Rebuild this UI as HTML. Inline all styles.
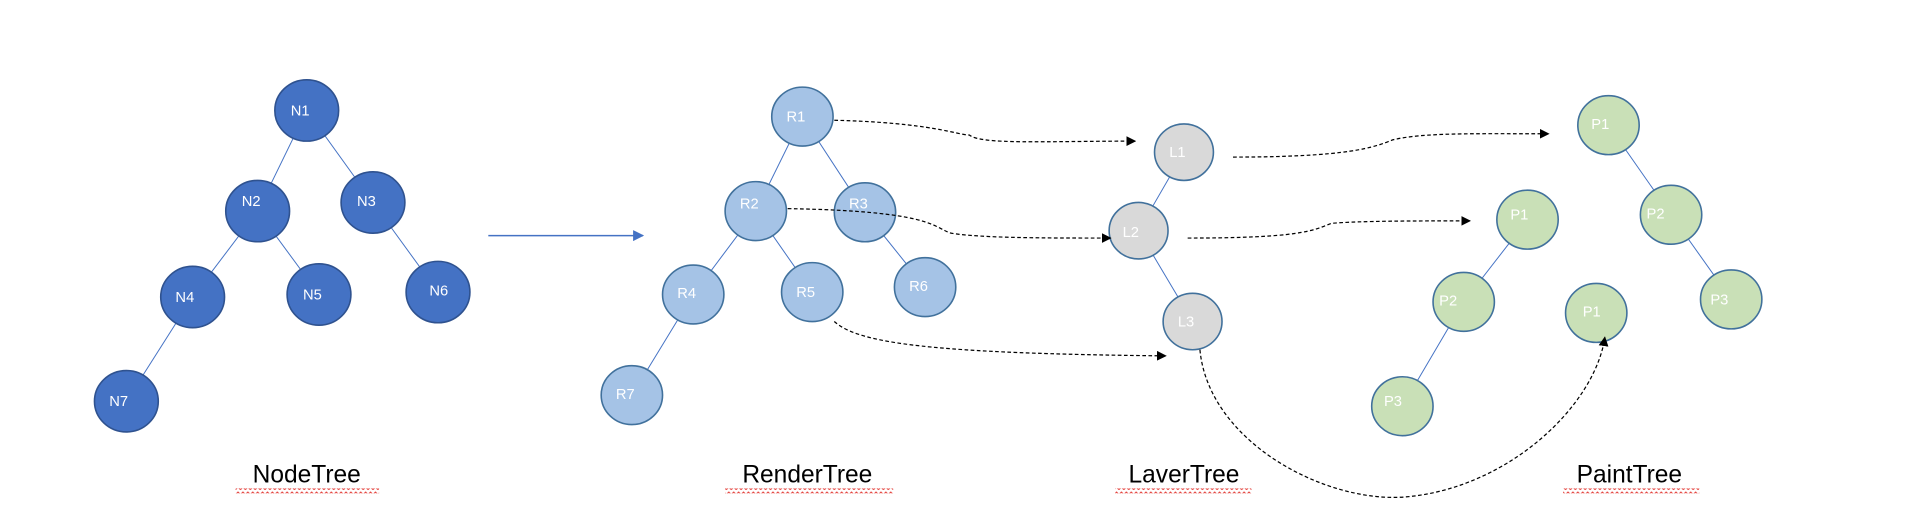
<!DOCTYPE html>
<html><head><meta charset="utf-8"><style>
html,body{margin:0;padding:0;background:#fff;}
svg{display:block;}
text{font-family:"Liberation Sans",sans-serif;}
</style></head><body>
<svg width="1914" height="524" viewBox="0 0 1560 427" preserveAspectRatio="none" xmlns="http://www.w3.org/2000/svg">
<defs>
<marker id="ah" markerWidth="8" markerHeight="8" refX="7" refY="4" orient="auto" markerUnits="userSpaceOnUse"><path d="M0,0 L8,4 L0,8 z" fill="#000"/></marker>
<marker id="bh" markerWidth="9" markerHeight="9" refX="8" refY="4.5" orient="auto" markerUnits="userSpaceOnUse"><path d="M0,0 L9,4.5 L0,9 z" fill="#4472C4"/></marker>
<pattern id="sq" width="4" height="4" patternUnits="userSpaceOnUse"><path d="M0,3 L2,1 L4,3" stroke="#e0302a" stroke-width="0.8" fill="none"/></pattern>
</defs>
<g stroke="#4472C4" stroke-width="0.8">
<line x1="250" y1="90" x2="210" y2="172"/><line x1="250" y1="90" x2="304" y2="165"/>
<line x1="210" y1="172" x2="157" y2="242"/><line x1="210" y1="172" x2="260" y2="240"/>
<line x1="304" y1="165" x2="357" y2="238"/><line x1="157" y1="242" x2="103" y2="327"/>
<line x1="654" y1="95" x2="616" y2="172"/><line x1="654" y1="95" x2="705" y2="173"/>
<line x1="616" y1="172" x2="565" y2="240"/><line x1="616" y1="172" x2="662" y2="238"/>
<line x1="705" y1="173" x2="754" y2="234"/><line x1="565" y1="240" x2="515" y2="322"/>
<line x1="965" y1="124" x2="928" y2="188"/><line x1="928" y1="188" x2="972" y2="262"/>
<line x1="1311" y1="102" x2="1362" y2="175"/><line x1="1362" y1="175" x2="1411" y2="244"/>
<line x1="1245" y1="179" x2="1193" y2="246"/><line x1="1193" y1="246" x2="1143" y2="331"/>
</g>
<line x1="398" y1="192" x2="524" y2="192" stroke="#4472C4" stroke-width="1.2" marker-end="url(#bh)"/>
<g stroke-width="1.3">
<g fill="#4472C4" stroke="#2F528F">
<ellipse cx="250" cy="90" rx="26" ry="25"/><ellipse cx="210" cy="172" rx="26" ry="25"/><ellipse cx="304" cy="165" rx="26" ry="25"/>
<ellipse cx="157" cy="242" rx="26" ry="25"/><ellipse cx="260" cy="240" rx="26" ry="25"/><ellipse cx="357" cy="238" rx="26" ry="25"/><ellipse cx="103" cy="327" rx="26" ry="25"/>
</g>
<g fill="#A5C3E6" stroke="#41719C">
<ellipse cx="654" cy="95" rx="25" ry="24"/><ellipse cx="616" cy="172" rx="25" ry="24"/><ellipse cx="705" cy="173" rx="25" ry="24"/>
<ellipse cx="565" cy="240" rx="25" ry="24"/><ellipse cx="662" cy="238" rx="25" ry="24"/><ellipse cx="754" cy="234" rx="25" ry="24"/><ellipse cx="515" cy="322" rx="25" ry="24"/>
</g>
<g fill="#D9D9D9" stroke="#41719C">
<ellipse cx="965" cy="124" rx="24" ry="23"/><ellipse cx="928" cy="188" rx="24" ry="23"/><ellipse cx="972" cy="262" rx="24" ry="23"/>
</g>
<g fill="#C9E0B7" stroke="#41719C">
<ellipse cx="1311" cy="102" rx="25" ry="24"/><ellipse cx="1362" cy="175" rx="25" ry="24"/><ellipse cx="1411" cy="244" rx="25" ry="24"/>
<ellipse cx="1245" cy="179" rx="25" ry="24"/><ellipse cx="1193" cy="246" rx="25" ry="24"/><ellipse cx="1143" cy="331" rx="25" ry="24"/>
<ellipse cx="1301" cy="255" rx="25" ry="24"/>
</g>
</g>
<g fill="#fff" font-size="12">
<text x="237" y="94">N1</text><text x="197" y="168">N2</text><text x="291" y="168">N3</text><text x="143" y="246">N4</text><text x="247" y="244">N5</text><text x="350" y="241">N6</text><text x="89" y="331">N7</text>
<text x="641" y="99">R1</text><text x="603" y="170">R2</text><text x="692" y="170">R3</text><text x="552" y="243">R4</text><text x="649" y="242">R5</text><text x="741" y="237">R6</text><text x="502" y="325">R7</text>
<text x="953" y="128">L1</text><text x="915" y="193">L2</text><text x="960" y="266">L3</text>
<text x="1297" y="105">P1</text><text x="1342" y="178">P2</text><text x="1394" y="248">P3</text>
<text x="1231" y="179">P1</text><text x="1173" y="249">P2</text><text x="1128" y="331">P3</text><text x="1290" y="258">P1</text>
</g>
<g fill="none" stroke="#000" stroke-width="1" stroke-dasharray="3,2" marker-end="url(#ah)">
<path d="M680,98 C760,100 780,110 790,110 C800,118 850,115 925,115"/>
<path d="M642,170 C760,172 760,185 775,190 C800,194 850,194 905,194"/>
<path d="M680,262 C700,280 760,288 950,290"/>
<path d="M1005,128 C1100,128 1120,120 1135,114 C1160,108 1200,109 1262,109"/>
<path d="M968,194 C1060,194 1070,188 1085,182 C1110,180 1150,180 1198,180"/>
<path d="M978,285 C985,360 1080,410 1145,405 C1230,398 1300,330 1308,275"/>
</g>
<g font-size="20" fill="#000">
<text x="250" y="393" text-anchor="middle">NodeTree</text>
<text x="658" y="393" text-anchor="middle">RenderTree</text>
<text x="965" y="393" text-anchor="middle">LaverTree</text>
<text x="1328" y="393" text-anchor="middle">PaintTree</text>
</g>
<g fill="url(#sq)">
<rect x="192" y="398" width="117" height="4"/>
<rect x="591" y="398" width="137" height="4"/>
<rect x="909" y="398" width="111" height="4"/>
<rect x="1274" y="398" width="111" height="4"/>
</g>
</svg>
</body></html>
